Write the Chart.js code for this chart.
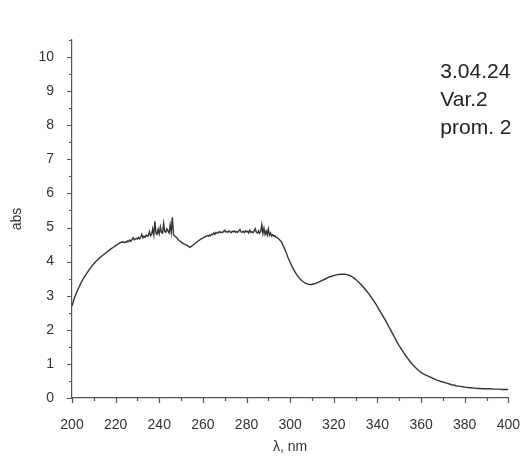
<!DOCTYPE html>
<html>
<head>
<meta charset="utf-8">
<script src="https://cdn.jsdelivr.net/npm/chart.js@4/dist/chart.umd.min.js"></script>
<style>
  html, body { margin: 0; padding: 0; background: #ffffff; }
  #wrap { width: 531px; height: 459px; }
</style>
</head>
<body>
<div id="wrap"><canvas id="spectrum" width="531" height="459"></canvas></div>
<script>
// Absorption spectrum, 200–400 nm (0.5 nm step where the signal is noisy)
const wavelengths = [
  200,201,202,203,204,205,206,207,208,209,210,211,212,213,214,215,216,217,218,219,220,221,222,223,
  224,224.5,225,225.5,226,226.5,227,227.5,228,228.5,229,229.5,230,230.5,231,231.5,232,232.5,233,233.5,
  234,234.5,235,235.5,236,236.5,237,237.5,238,238.5,239,239.5,240,240.5,241,241.5,242,242.5,243,243.5,
  244,244.5,245,245.5,246,246.5,247,
  248,249,250,251,252,253,254,255,256,257,258,259,260,261,
  262,262.5,263,263.5,264,264.5,265,265.5,266,266.5,267,267.5,268,268.5,269,269.5,270,270.5,271,271.5,
  272,272.5,273,273.5,274,274.5,275,275.5,276,276.5,277,277.5,278,278.5,279,279.5,280,280.5,281,281.5,
  282,282.5,283,283.5,284,284.5,285,285.5,286,286.5,287,287.5,288,288.5,289,289.5,290,290.5,291,291.5,
  292,292.5,293,293.5,294,294.5,295,
  296,297,298,299,300,301,302,303,304,305,306,307,308,309,310,311,312,313,314,315,
  316,317,318,319,320,321,322,323,324,325,326,327,328,329,330,331,332,333,334,335,
  336,337,338,339,340,341,342,343,344,345,346,347,348,349,350,351,352,353,354,355,
  356,357,358,359,360,361,362,363,364,365,366,367,368,369,370,371,372,373,374,375,
  376,377,378,379,380,381,382,383,384,385,386,387,388,389,390,391,392,393,394,395,
  396,397,398,399,400
];
const absorbance = [
  2.70,2.92,3.08,3.22,3.36,3.48,3.58,3.68,3.77,3.86,3.94,4.01,4.07,4.13,4.18,4.23,4.28,4.33,4.38,4.42,4.47,4.51,4.55,4.58,
  4.56,4.58,4.57,4.61,4.59,4.63,4.60,4.65,4.70,4.64,4.66,4.68,4.66,4.71,4.67,4.72,4.80,4.70,4.74,4.71,
  4.78,4.74,4.76,4.88,4.76,4.80,4.96,4.78,5.18,4.84,4.80,4.95,4.82,5.02,4.86,4.84,5.12,4.88,4.86,4.96,
  4.90,4.84,5.08,4.86,5.30,4.80,4.76,
  4.70,4.62,4.58,4.53,4.50,4.47,4.42,4.46,4.51,4.56,4.61,4.66,4.69,4.73,
  4.76,4.74,4.78,4.76,4.80,4.79,4.84,4.80,4.86,4.83,4.84,4.88,4.85,4.87,4.85,4.89,4.92,4.87,4.88,4.86,
  4.90,4.87,4.85,4.89,4.87,4.90,4.86,4.88,4.86,4.90,4.94,4.87,4.86,4.89,4.85,4.90,4.87,4.89,4.84,4.92,
  4.86,4.88,4.85,4.90,4.96,4.86,4.84,4.90,4.83,4.88,5.08,4.82,4.98,4.80,4.90,4.78,4.96,4.78,4.84,4.75,
  4.79,4.74,4.76,4.72,4.71,4.68,4.65,
  4.58,4.44,4.30,4.12,3.98,3.84,3.72,3.62,3.53,3.46,3.41,3.37,3.34,3.33,3.33,3.35,3.37,3.40,3.43,3.46,
  3.49,3.52,3.55,3.57,3.59,3.61,3.62,3.63,3.63,3.63,3.62,3.60,3.57,3.53,3.48,3.42,3.36,3.29,3.22,3.14,
  3.06,2.97,2.88,2.78,2.68,2.57,2.46,2.35,2.24,2.12,2.00,1.88,1.76,1.64,1.53,1.43,1.33,1.24,1.15,1.07,
  0.99,0.92,0.86,0.80,0.75,0.71,0.68,0.65,0.62,0.59,0.56,0.53,0.51,0.49,0.47,0.45,0.43,0.41,0.39,0.38,
  0.36,0.35,0.34,0.33,0.32,0.31,0.30,0.30,0.29,0.29,0.28,0.28,0.27,0.27,0.27,0.27,0.27,0.26,0.26,0.26,
  0.26,0.25,0.25,0.25,0.25
];

// Axis ticks (labelled) and the short intermediate ticks
const xTicks = [200, 220, 240, 260, 280, 300, 320, 340, 360, 380, 400];
const xMinorTicks = [210, 230, 250, 270, 290, 310, 330, 350, 370, 390];
const yTicks = [0, 1, 2, 3, 4, 5, 6, 7, 8, 9, 10];
const yMinorTicks = [0.5, 1.5, 2.5, 3.5, 4.5, 5.5, 6.5, 7.5, 8.5, 9.5, 10.5];

// Sample note printed in the upper right corner
const noteLines = ['3.04.24', 'Var.2', 'prom. 2'];

const AXIS_COLOR = '#555555';
const TEXT_COLOR = '#333333';
const FONT = 'Liberation Sans, Arial, sans-serif';

const points = wavelengths.map((w, i) => ({ x: w, y: absorbance[i] }));

// Draws outward tick marks (long at labelled values, short in between)
const tickMarks = {
  id: 'tickMarks',
  afterDraw(chart) {
    const { ctx, chartArea, scales } = chart;
    const xs = scales.x, ys = scales.y;
    ctx.save();
    ctx.strokeStyle = AXIS_COLOR;
    ctx.lineWidth = 1.2;
    ctx.beginPath();
    const xMark = (v, len) => {
      const px = Math.round(xs.getPixelForValue(v)) + 0.5;
      ctx.moveTo(px, chartArea.bottom);
      ctx.lineTo(px, chartArea.bottom + len);
    };
    const yMark = (v, len) => {
      const py = Math.round(ys.getPixelForValue(v)) + 0.5;
      ctx.moveTo(chartArea.left, py);
      ctx.lineTo(chartArea.left - len, py);
    };
    xTicks.forEach(v => xMark(v, 5));
    xMinorTicks.forEach(v => xMark(v, 3));
    yTicks.forEach(v => yMark(v, 5));
    yMinorTicks.forEach(v => yMark(v, 3));
    ctx.stroke();
    ctx.restore();
  }
};

// Sample note text block
const noteText = {
  id: 'noteText',
  afterDraw(chart) {
    const { ctx, chartArea } = chart;
    ctx.save();
    ctx.fillStyle = '#222222';
    ctx.font = '21px ' + FONT;
    ctx.textAlign = 'left';
    ctx.textBaseline = 'alphabetic';
    noteLines.forEach((line, i) => {
      ctx.fillText(line, chartArea.right - 68, chartArea.top + 38 + i * 28);
    });
    ctx.restore();
  }
};

new Chart(document.getElementById('spectrum'), {
  type: 'line',
  data: {
    datasets: [{
      data: points,
      borderColor: '#333333',
      borderWidth: 1.4,
      pointRadius: 0,
      tension: 0,
      fill: false
    }]
  },
  options: {
    responsive: false,
    animation: false,
    devicePixelRatio: 1,
    layout: { padding: { top: 40, right: 16, bottom: 0, left: 0 } },
    plugins: {
      legend: { display: false },
      tooltip: { enabled: false }
    },
    scales: {
      x: {
        type: 'linear',
        min: 200,
        max: 400,
        afterBuildTicks: s => { s.ticks = xTicks.map(v => ({ value: v })); },
        afterFit: s => { s.height = 61; },
        grid: { display: false },
        border: { display: true, color: AXIS_COLOR, width: 1.2 },
        ticks: {
          color: TEXT_COLOR,
          font: { family: FONT, size: 14 },
          padding: 11,
          maxRotation: 0,
          autoSkip: false
        },
        title: {
          display: true,
          text: 'λ, nm',
          color: TEXT_COLOR,
          font: { family: FONT, size: 14 },
          padding: { top: 0, bottom: 3 }
        }
      },
      y: {
        type: 'linear',
        min: 0,
        max: 10.5,
        afterBuildTicks: s => { s.ticks = yTicks.map(v => ({ value: v })); },
        afterFit: s => { s.width = 72; },
        grid: { display: false },
        border: { display: true, color: AXIS_COLOR, width: 1.2 },
        ticks: {
          color: TEXT_COLOR,
          font: { family: FONT, size: 14 },
          padding: 10,
          autoSkip: false
        },
        title: {
          display: true,
          text: 'abs',
          color: TEXT_COLOR,
          font: { family: FONT, size: 14 },
          padding: { top: 9, bottom: 0 }
        }
      }
    }
  },
  plugins: [tickMarks, noteText]
});
</script>
</body>
</html>
